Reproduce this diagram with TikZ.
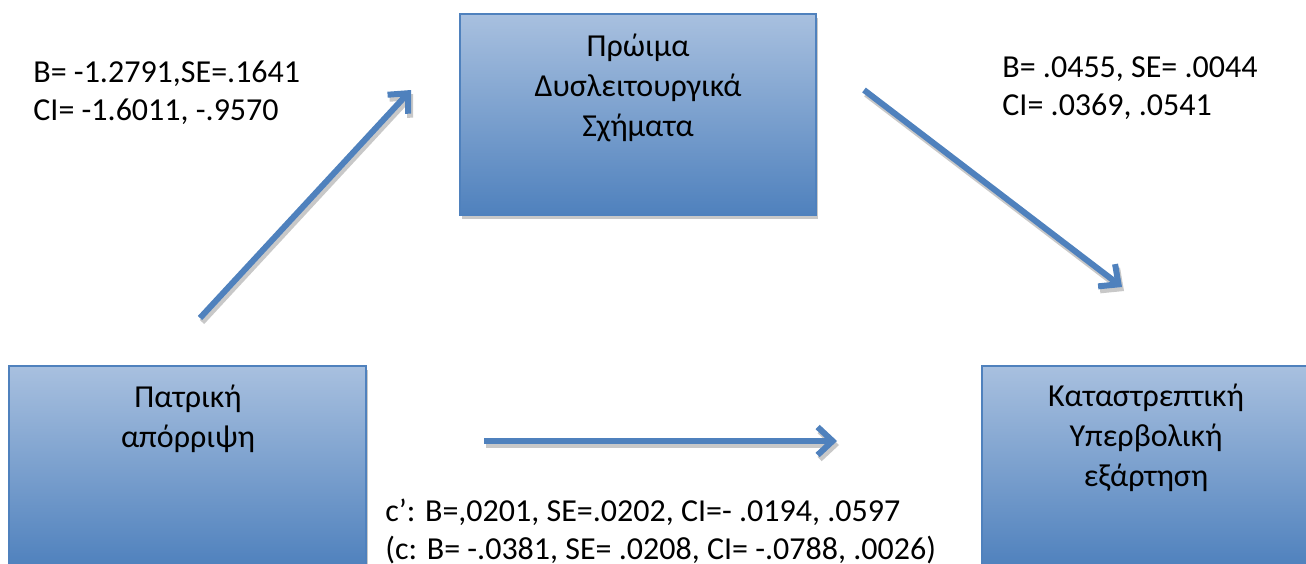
\documentclass[tikz,border=0pt]{standalone}
\usepackage{fontspec}
\setmainfont{Carlito}
\usetikzlibrary{arrows.meta}
\definecolor{boxtop}{RGB}{168,192,223}
\definecolor{boxbot}{RGB}{79,129,189}
\definecolor{linkblue}{RGB}{79,129,189}
\definecolor{shade}{RGB}{200,200,200}
\begin{document}
\begin{tikzpicture}[x=0.5pt,y=-0.5pt,
  box/.style={rectangle, draw=boxbot, line width=0.6pt, top color=boxtop,
    bottom color=boxbot, inner sep=0pt},
  boxshadow/.style={rectangle, fill=shade, draw=none, inner sep=0pt},
  boxtext/.style={align=center, inner sep=0pt, font=\fontsize{16}{20}\selectfont},
  stat/.style={align=left, anchor=west, inner sep=0pt, font=\fontsize{16}{19}\selectfont},
  link/.style={draw=linkblue, line width=3pt, -{Straight Barb[length=7.5pt,width=14pt]}},
  linkshadow/.style={draw=shade, line width=3pt, -{Straight Barb[length=7.5pt,width=14pt]}}
]
\useasboundingbox (0,0) rectangle (1306,563);
\clip (0,0) rectangle (1306,563);

% boxes with their drop shadows
\node[boxshadow, minimum width=178pt, minimum height=100.5pt] at (640,118) {};
\node[box, minimum width=178pt, minimum height=100.5pt] (early) at (638,114.5) {};
\node[boxshadow, minimum width=178.5pt, minimum height=100.5pt] at (189.5,470) {};
\node[box, minimum width=178.5pt, minimum height=100.5pt] (father) at (187.5,466.5) {};
\node[boxshadow, minimum width=164pt, minimum height=100.5pt] at (1148,470) {};
\node[box, minimum width=164pt, minimum height=100.5pt] (addict) at (1146,466.5) {};

% box captions
\node[boxtext] (earlyT) at (638,87.5) {Πρώιμα\\Δυσλειτουργικά\\Σχήματα};
\node[boxtext] (fatherT) at (188,419) {Πατρική\\απόρριψη};
\node[boxtext] (addictT) at (1146,437.5) {Καταστρεπτική\\Υπερβολική\\εξάρτηση};

% arrow end points
\coordinate (aS) at (200,318);
\coordinate (aE) at (411,90);
\coordinate (bS) at (864,90);
\coordinate (bE) at (1122,287);
\coordinate (cS) at (484,441);
\coordinate (cE) at (837,441);

% arrow shadows, then arrows
\begin{scope}[transform canvas={xshift=1pt,yshift=-2pt}]
  \draw[linkshadow] (aS) -- (aE);
  \draw[linkshadow] (bS) -- (bE);
  \draw[linkshadow] (cS) -- (cE);
\end{scope}
\draw[link] (aS) -- (aE);
\draw[link] (bS) -- (bE);
\draw[link] (cS) -- (cE);

% path coefficients
\node[stat] (statA) at (33,92.5) {B= -1.2791,SE=.1641\\CI= -1.6011, -.9570};
\node[stat] (statB) at (1002,88) {B= .0455, SE= .0044\\CI= .0369, .0541};
\node[stat] (statC) at (385,531.5) {c’: B=,0201, SE=.0202, CI=- .0194, .0597\\(c: B= -.0381, SE= .0208, CI= -.0788, .0026)};
\end{tikzpicture}
\end{document}
